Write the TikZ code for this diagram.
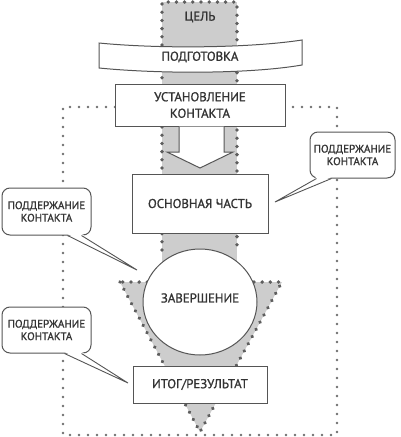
\documentclass[tikz,border=0pt]{standalone}
\usepackage{fontspec}
\setmainfont{PT Sans}[FakeBold=1.2]
\usetikzlibrary{shapes.geometric,calc,decorations.markings}
\definecolor{greyfill}{HTML}{CDCDCD}
\definecolor{dotcol}{HTML}{5E5E5E}
\definecolor{framedot}{HTML}{6E6E6E}
\definecolor{linecol}{HTML}{555555}
\definecolor{txtcol}{HTML}{333333}
\tikzset{
  boxline/.style={draw=linecol, line width=1pt},
  stagebox/.style={boxline, fill=white, text=txtcol, align=center, inner sep=0pt,
    font=\fontsize{12.8}{16.5}\selectfont},
  plain/.style={text=txtcol, align=center, inner sep=0pt, font=\fontsize{12.8}{16.5}\selectfont},
  bubble/.style={boxline, fill=white, rounded corners=8pt, text=txtcol, align=center,
    inner sep=0pt, minimum width=88pt, minimum height=46pt,
    font=\fontsize{11}{12.5}\selectfont},
  coldots/.style={decoration={markings, mark=between positions 0 and 1 step 8.2pt with {\fill[dotcol] (0,0) circle (1.9pt);}}, decorate},
  framedots/.style={decoration={markings, mark=between positions 0 and 1 step 9pt with {\fill[framedot] (0,0) circle (1.35pt);}}, decorate},
}
\begin{document}
\begin{tikzpicture}[x=1pt,y=-1pt]
\useasboundingbox (0,0) rectangle (400,437);
% grey column and funnel
\fill[greyfill] (162,2) rectangle (237,282);
\fill[greyfill] (120,282) -- (282,282) -- (200,432) -- cycle;
% column dots
\coordinate (ctl) at (162,2);
\coordinate (ctr) at (237,2);
\coordinate (cbl) at (162,250);
\coordinate (cbr) at (237,250);
\path[coldots] (cbl) -- (ctl) -- (ctr) -- (cbr);
% funnel dots
\coordinate (fl) at (120,282);
\coordinate (fr) at (282,282);
\coordinate (fa) at (200,432);
\path[coldots] (fl) -- (fa) -- (fr) -- (fl);
% outer dotted frame
\coordinate (o1) at (115,107);
\coordinate (o2) at (63,107);
\coordinate (o3) at (63,435);
\coordinate (o4) at (337,435);
\coordinate (o5) at (337,107);
\coordinate (o6) at (285,107);
\path[framedots] (o1) -- (o2) -- (o3) -- (o4) -- (o5) -- (o6);
% labels and boxes
\node[plain] (cel) at (200,17) {ЦЕЛЬ};
\draw[boxline, fill=white] (99,43) .. controls (160,49) and (250,48) .. (302,40)
  -- (302,65) .. controls (250,74) and (160,74) .. (99,68) -- cycle;
\node[plain] (podg) at (200,57) {ПОДГОТОВКА};
\node[stagebox, minimum width=170pt, minimum height=42pt] (ust) at (200,105)
  {УСТАНОВЛЕНИЕ\\КОНТАКТА};
% arrow notch
\draw[boxline, fill=white] (179,126.5) -- (179,152) -- (167,152) -- (200,168)
  -- (233,152) -- (224,152) -- (224,126.5);
\node[stagebox, minimum width=136pt, minimum height=59pt] (osn) at (200,203.5)
  {ОСНОВНАЯ ЧАСТЬ};
\node[stagebox, ellipse, minimum width=114pt, minimum height=106pt] (zav) at (200,302)
  {};
\node[plain] (zavt) at (200,298) {ЗАВЕРШЕНИЕ};
\node[stagebox, minimum width=134pt, minimum height=37pt] (itog) at (200,384.5)
  {ИТОГ/РЕЗУЛЬТАТ};
% callouts
\node[bubble, minimum width=85pt] (c1) at (352.5,155) {ПОДДЕРЖАНИЕ\\КОНТАКТА};
\node[bubble, minimum width=89pt, minimum height=47pt] (c2) at (46.5,211.5) {ПОДДЕРЖАНИЕ\\КОНТАКТА};
\node[bubble, minimum width=89pt] (c3) at (46.5,330) {ПОДДЕРЖАНИЕ\\КОНТАКТА};
\coordinate (t1) at (275,202);
\coordinate (t2) at (137,270);
\coordinate (t3) at (128,383);
\foreach \c/\t/\a/\b in {c1/t1/7/22, c2/t2/66/80, c3/t3/63/80}{
  \fill[white] ($(\c.south west)+(\a,-1.5)$) -- (\t) -- ($(\c.south west)+(\b,-1.5)$) -- cycle;
  \draw[boxline, line width=0.9pt, line join=miter] ($(\c.south west)+(\a,0)$) -- (\t) -- ($(\c.south west)+(\b,0)$);
}
\end{tikzpicture}
\end{document}
